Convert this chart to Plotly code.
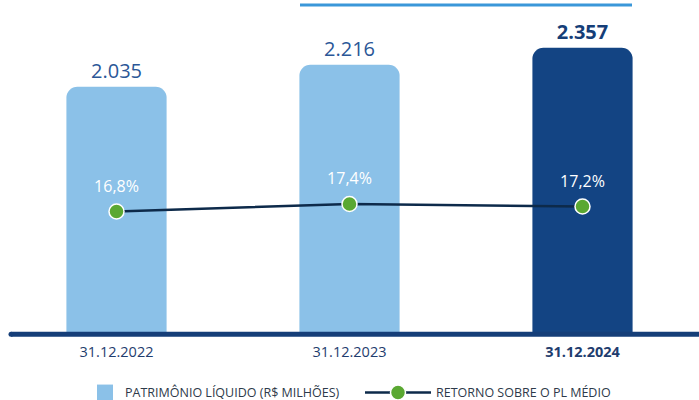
import plotly.graph_objects as go

categories = ["31.12.2022", "31.12.2023", "31.12.2024"]
tick_labels = ["31.12.2022", "31.12.2023", "<b>31.12.2024</b>"]
patrimonio = [2035, 2216, 2357]
patrimonio_labels = ["2.035", "2.216", "<b>2.357</b>"]
retorno = [16.8, 17.4, 17.2]
retorno_labels = ["16,8%", "17,4%", "17,2%"]

LIGHT = "#8bc1e8"
DARK = "#134483"
FONT = "Open Sans, Noto Sans, sans-serif"

x = [0, 1, 2]

fig = go.Figure()
fig.add_trace(go.Bar(
    x=x, y=patrimonio, name="PATRIMÔNIO LÍQUIDO (R$ MILHÕES)", showlegend=False,
    marker=dict(color=[LIGHT, LIGHT, DARK], cornerradius=11, line=dict(width=0)),
    width=0.43,
    text=patrimonio_labels, textposition="outside",
    textfont=dict(size=20, color=["#2b5797", "#2b5797", "#153e78"], family=FONT),
    cliponaxis=False, hoverinfo="skip",
))
# legend entry for the bars (larger square symbol)
fig.add_trace(go.Scatter(
    x=[None], y=[None], name="PATRIMÔNIO LÍQUIDO (R$ MILHÕES)", mode="markers",
    marker=dict(symbol="square", size=16, color=LIGHT), legend="legend",
))
fig.add_trace(go.Scatter(
    x=x, y=retorno, name="RETORNO SOBRE O PL MÉDIO", yaxis="y2",
    mode="lines+markers",
    line=dict(color="#0d2a4a", width=2.5),
    marker=dict(color="#5aa832", size=15, line=dict(color="white", width=1.5)),
    cliponaxis=False, legend="legend2",
))
# percentage labels above the points
fig.add_trace(go.Scatter(
    x=x, y=retorno, yaxis="y2", mode="markers+text", showlegend=False,
    marker=dict(size=24, opacity=0), hoverinfo="skip",
    text=retorno_labels, textposition="top center",
    textfont=dict(size=16, color="white", family=FONT),
    cliponaxis=False,
))

legend_common = dict(orientation="h", yanchor="middle", xanchor="left", y=-0.18,
                     font=dict(size=12.5, color="#2e3a4a", family=FONT),
                     bgcolor="rgba(0,0,0,0)")

fig.update_layout(
    width=699, height=400,
    margin=dict(l=0, r=0, t=0, b=67, autoexpand=False),
    plot_bgcolor="white", paper_bgcolor="white",
    font=dict(family=FONT, color="#1f3d6e"),
    showlegend=True,
    legend=dict(x=85/699, itemwidth=30, **legend_common),
    legend2=dict(x=360/699, itemwidth=66, **legend_common),
    xaxis=dict(range=[-0.5, 2.5], tickvals=x, ticktext=tick_labels, showgrid=False,
               zeroline=False, showline=False, ticks="", automargin=False,
               ticklabelstandoff=8,
               tickfont=dict(size=14.5, color="#1f3d6e", family=FONT)),
    yaxis=dict(range=[0, 2752], visible=False, showgrid=False, zeroline=False),
    yaxis2=dict(range=[7.08, 33.72], overlaying="y", visible=False, showgrid=False, zeroline=False),
    shapes=[
        dict(type="line", xref="paper", yref="paper", x0=11/699, x1=1, y0=-0.004, y1=-0.004,
             line=dict(color="#153e78", width=5), layer="above"),
        dict(type="circle", xref="paper", yref="paper", x0=8.5/699, x1=13.5/699,
             y0=-0.004 - 2.5/333, y1=-0.004 + 2.5/333,
             fillcolor="#153e78", line=dict(width=0), layer="above"),
        dict(type="line", xref="paper", yref="paper", x0=300/699, x1=632/699, y0=0.985, y1=0.985,
             line=dict(color="#3a97d9", width=3)),
    ],
)

fig.write_html("out.html", config={"displayModeBar": False},
               post_script="document.body.style.margin='0';document.body.style.overflow='hidden';")
